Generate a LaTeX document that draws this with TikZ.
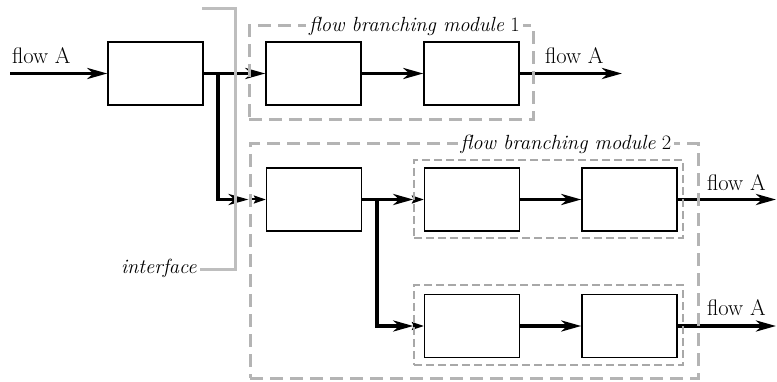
\documentclass[tikz,border=0pt]{standalone}
\usetikzlibrary{arrows.meta}
\definecolor{ifgray}{RGB}{190,190,190}
\definecolor{modgray}{RGB}{180,180,180}
\definecolor{innergray}{RGB}{168,168,168}
\pgfdeclarelayer{front}
\pgfsetlayers{main,front}
\tikzset{
  blk/.style={draw=black, line width=1.4pt, fill=white, minimum width=95pt, minimum height=63pt, inner sep=0pt},
  flowline/.style={line width=3.5pt, -{Stealth[length=20pt,width=11pt,inset=6pt]}},
  smallarrow/.style={line width=2pt, -{Stealth[length=12pt,width=8pt,inset=2pt]}},
  module/.style={draw=modgray, line width=3pt, dash pattern=on 13pt off 7pt, inner sep=0pt},
  innermodule/.style={draw=innergray, line width=1.5pt, dash pattern=on 8pt off 4pt, inner sep=0pt},
  ifline/.style={draw=ifgray, line width=3pt},
  lbl/.style={font=\fontsize{22.5}{26}\selectfont, inner sep=0pt},
  itlbl/.style={font=\fontsize{20.5}{24}\selectfont, inner sep=3pt},
  modlbl/.style={font=\fontsize{20.5}{24}\selectfont, fill=white, inner sep=3pt},
}
\begin{document}
\begin{tikzpicture}[x=1pt,y=-1pt]
\useasboundingbox (0,0) rectangle (777,382);
% modules (drawn in front)
\begin{pgfonlayer}{front}
\node[module, minimum width=284pt, minimum height=94pt] (m1) at (391,73) {};
\node[module, minimum width=448pt, minimum height=234pt] (m2) at (474,261) {};
\node[innermodule, minimum width=269pt, minimum height=78pt] (m2a) at (548.5,199) {};
\node[innermodule, minimum width=269pt, minimum height=80pt] (m2b) at (548.5,325) {};
\node[modlbl, anchor=east] (m1l) at (523,26) {\textit{flow branching module} 1};
\node[modlbl] (m2l) at (566,144) {\textit{flow branching module} 2};
% interface
\coordinate (ift) at (202,9);
\coordinate (ifb) at (235,270);
\node[itlbl, anchor=east] (ifl) at (200,268) {\textit{interface}};
\draw[ifline] (ift) -| (ifb) -- (ifl.east |- ifb);
\end{pgfonlayer}
% blocks
\node[blk] (b0) at (155.5,73.5) {};
\node[blk] (b1) at (313.5,73.5) {};
\node[blk] (b2) at (471.5,73.5) {};
\node[blk] (b3) at (314,199.5) {};
\node[blk] (b4) at (472,199.5) {};
\node[blk] (b5) at (629.5,199.5) {};
\node[blk] (b6) at (472,326) {};
\node[blk] (b7) at (629.5,326) {};
% coordinates
\coordinate (in) at (10,73.5);
\coordinate (j1) at (218,73.5);
\coordinate (j2) at (377,199.5);
\coordinate (o1) at (622,73.5);
\coordinate (o2) at (776,199.5);
\coordinate (o3) at (776,326);
\coordinate (e3) at (m2.west |- b3.west);
\coordinate (e4) at (m2a.west |- b4.west);
\coordinate (e6) at (m2b.west |- b6.west);
% labels
\node[lbl, anchor=base west] (t0) at (12,64) {flow A};
\node[lbl, anchor=base west] (t1) at (545,64) {flow A};
\node[lbl, anchor=base west] (t2) at (707,191) {flow A};
\node[lbl, anchor=base west] (t3) at (707,316) {flow A};
% connectors
\draw[flowline] (in) -- (b0.west);
\draw[flowline] (b0.east) -- (b1.west);
\draw[flowline] (j1) |- (e3);
\draw[smallarrow] (e3) -- (b3.west);
\draw[flowline] (b1.east) -- (b2.west);
\draw[flowline] (b2.east) -- (o1);
\draw[flowline] (b3.east) -- (e4);
\draw[smallarrow] (e4) -- (b4.west);
\draw[flowline] (j2) |- (e6);
\draw[smallarrow] (e6) -- (b6.west);
\draw[flowline] (b4.east) -- (b5.west);
\draw[flowline] (b6.east) -- (b7.west);
\draw[flowline] (b5.east) -- (o2);
\draw[flowline] (b7.east) -- (o3);
\end{tikzpicture}
\end{document}
